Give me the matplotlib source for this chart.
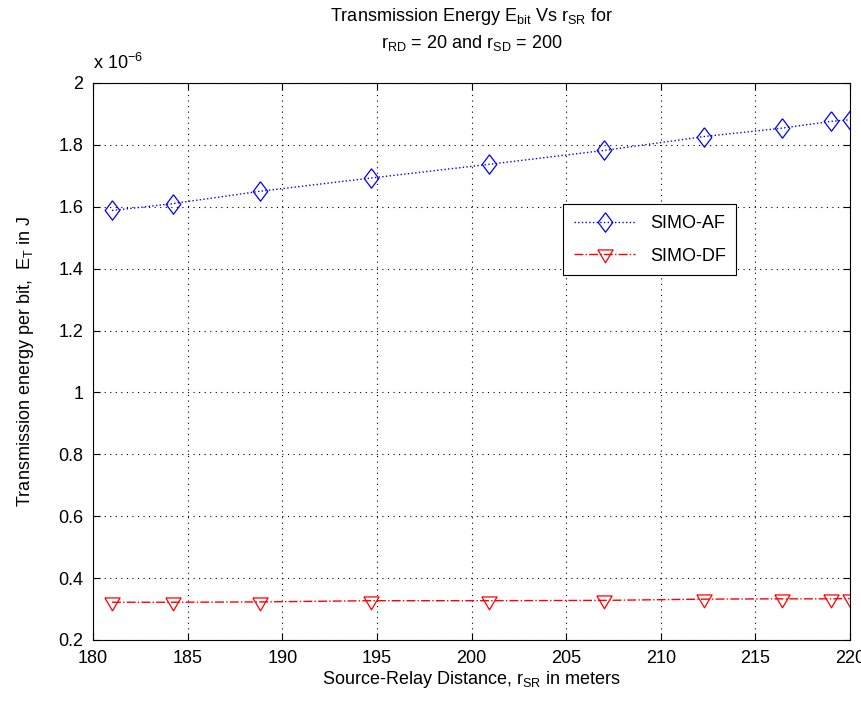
import matplotlib
matplotlib.use("Agg")
import matplotlib.pyplot as plt
import numpy as np

plt.rcParams['font.family'] = ['Liberation Sans', 'DejaVu Sans']
plt.rcParams['mathtext.fontset'] = 'custom'
plt.rcParams['mathtext.rm'] = 'Liberation Sans'
plt.rcParams['mathtext.it'] = 'Liberation Sans'

# source-relay distance (m)
r_sr = [181.0, 184.2, 188.8, 194.7, 200.9, 207.0, 212.3, 216.4, 219.0, 220.0]
# energy per bit, x 1e-6 J
simo_af = [1.588, 1.610, 1.650, 1.693, 1.737, 1.782, 1.827, 1.854, 1.876, 1.881]
simo_df = [0.322, 0.322, 0.323, 0.327, 0.327, 0.328, 0.332, 0.333, 0.333, 0.334]

# matlab-ish markers (taller diamond, wide triangle)
diamond = [(0, 1), (0.75, 0), (0, -1), (-0.75, 0), (0, 1)]
tri_down = [(-1, 0.6), (1, 0.6), (0, -1.1), (-1, 0.6)]

fig = plt.figure(figsize=(8.62, 7.13), dpi=100)
ax = fig.add_axes([0.108, 0.1024, 0.878, 0.7812])

ax.plot(r_sr, simo_af, color='blue', linestyle=':', linewidth=1.0,
        marker=diamond, markersize=14, markerfacecolor='none', markeredgecolor='blue',
        markeredgewidth=0.9, label='SIMO-AF')
ax.plot(r_sr, simo_df, color='red', linestyle='-.', linewidth=1.0,
        marker=tri_down, markersize=12, markerfacecolor='none', markeredgecolor='red',
        markeredgewidth=0.9, label='SIMO-DF')

ax.set_xlim(180, 220)
ax.set_ylim(0.2, 2.0)
ax.set_xticks(np.arange(180, 221, 5))
ax.set_yticks(np.arange(0.2, 2.01, 0.2))
ax.set_yticklabels(['0.2', '0.4', '0.6', '0.8', '1', '1.2', '1.4', '1.6', '1.8', '2'])
ax.tick_params(direction='in', top=True, right=True, labelsize=13, length=5, pad=7)
ax.grid(True, color='black', linestyle=(0, (1, 4)), linewidth=0.8)
for s in ax.spines.values():
    s.set_linewidth(0.8)

ax.text(0.0, 1.018, r'x 10$^{-6}$', transform=ax.transAxes, fontsize=13,
        ha='left', va='bottom')

ax.set_xlabel(r'Source-Relay Distance, r$_{\mathrm{SR}}$ in meters', fontsize=13, labelpad=2)
ax.set_ylabel(r'Transmission energy per bit,  E$_{\mathrm{T}}$ in J', fontsize=13, labelpad=16)
ax.set_title('Transmission Energy E$_{\\mathrm{bit}}$ Vs r$_{\\mathrm{SR}}$ for\n'
             'r$_{\\mathrm{RD}}$ = 20 and r$_{\\mathrm{SD}}$ = 200', fontsize=13,
             pad=25, linespacing=1.45)

leg = ax.legend(loc='upper left', bbox_to_anchor=(0.621, 0.782), fontsize=13,
                fancybox=False, edgecolor='black', framealpha=1, borderpad=0.6,
                handlelength=3.4, labelspacing=0.85, borderaxespad=0)
leg.get_frame().set_linewidth(0.8)

fig.savefig('out.png', dpi=100)
